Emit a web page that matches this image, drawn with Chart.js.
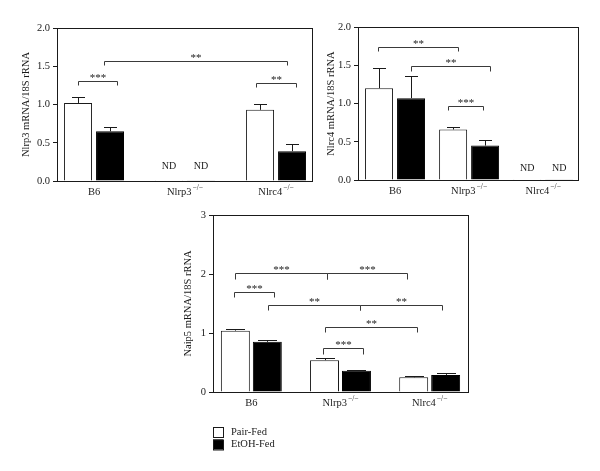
<!DOCTYPE html>
<html>
<head>
<meta charset="utf-8">
<script src="https://cdn.jsdelivr.net/npm/chart.js@4"></script>
<style>
  body { margin: 0; background: #fff; width: 600px; height: 471px; position: relative; overflow: hidden; }
  canvas { position: absolute; }
</style>
</head>
<body>
<canvas id="nlrp3" style="left:0;top:0" width="320" height="200"></canvas>
<canvas id="nlrc4" style="left:300px;top:0" width="300" height="200"></canvas>
<canvas id="naip5" style="left:150px;top:200px" width="330" height="260"></canvas>
<script>
const FONT = '"Liberation Serif", "Times New Roman", serif';
const INK = '#1a1a1a';

const categories = ['B6', 'Nlrp3', 'Nlrc4'];
const knockoutMark = ['', '\u2212/\u2212', '\u2212/\u2212'];
const seriesNames = ['Pair-Fed', 'EtOH-Fed'];

// Nlrp3 mRNA / 18S rRNA
const nlrp3Pair = [1.02, 0.01, 0.93];
const nlrp3Etoh = [0.65, 0.01, 0.39];
const nlrp3PairErr = [0.08, 0, 0.08];
const nlrp3EtohErr = [0.06, 0, 0.10];
const nlrp3Ticks = [0, 0.5, 1, 1.5, 2];
const nlrp3ND = [1];
// [from, to, line level, end level, label]
const nlrp3Brackets = [
  [-0.18, 0.25, 1.31, 1.25, '***'],
  [0.11, 2.12, 1.57, 1.51, '**'],
  [1.78, 2.22, 1.28, 1.23, '**']
];

// Nlrc4 mRNA / 18S rRNA
const nlrc4Pair = [1.20, 0.66, 0.01];
const nlrc4Etoh = [1.07, 0.45, 0.01];
const nlrc4PairErr = [0.27, 0.03, 0];
const nlrc4EtohErr = [0.29, 0.07, 0];
const nlrc4Ticks = [0, 0.5, 1, 1.5, 2];
const nlrc4ND = [2];
const nlrc4Brackets = [
  [-0.23, 0.85, 1.74, 1.68, '**'],
  [0.22, 1.28, 1.49, 1.43, '**'],
  [0.72, 1.19, 0.97, 0.91, '***']
];

// Naip5 mRNA / 18S rRNA
const naip5Pair = [1.04, 0.54, 0.25];
const naip5Etoh = [0.85, 0.36, 0.29];
const naip5PairErr = [0.02, 0.03, 0.02];
const naip5EtohErr = [0.03, 0.02, 0.03];
const naip5Ticks = [0, 1, 2, 3];
const naip5Brackets = [
  [-0.18, 0.85, 2.02, 1.92, '***'],
  [0.85, 1.75, 2.02, 1.92, '***'],
  [-0.20, 0.25, 1.70, 1.61, '***'],
  [0.19, 1.22, 1.48, 1.39, '**'],
  [1.22, 2.14, 1.48, 1.39, '**'],
  [0.83, 1.86, 1.10, 1.02, '**'],
  [0.80, 1.25, 0.74, 0.65, '***']
];

const toPoints = vals => vals.map((v, i) => ({ x: i, y: v }));
const px = v => Math.round(v) + 0.5;

function makePanel(id, cfg) {
  const extras = {
    id: 'extras',
    afterDatasetsDraw(chart) {
      const ctx = chart.ctx, xs = chart.scales.x, ys = chart.scales.y, a = chart.chartArea;
      ctx.save();
      ctx.lineWidth = 1;
      ctx.strokeStyle = INK;

      // error bars (upper whisker only)
      cfg.errors.forEach((errs, d) => {
        const ds = chart.data.datasets[d];
        chart.getDatasetMeta(d).data.forEach((bar, i) => {
          if (!errs[i]) return;
          const top = px(ys.getPixelForValue(ds.data[i].y + errs[i]));
          const bx = px(bar.x);
          ctx.beginPath();
          ctx.moveTo(bx, bar.y);
          ctx.lineTo(bx, top);
          ctx.moveTo(bx - cfg.cap, top);
          ctx.lineTo(bx + cfg.cap, top);
          ctx.stroke();
        });
      });

      // frame
      ctx.strokeRect(px(a.left), px(a.top), Math.round(a.width), Math.round(a.height));

      // significance brackets
      ctx.strokeStyle = '#3a3a3a';
      ctx.fillStyle = INK;
      ctx.font = '11px ' + FONT;
      ctx.textAlign = 'center';
      ctx.textBaseline = 'alphabetic';
      cfg.brackets.forEach(([x1, x2, yl, ye, label]) => {
        const p1 = px(xs.getPixelForValue(x1)), p2 = px(xs.getPixelForValue(x2));
        const pl = px(ys.getPixelForValue(yl)), pe = px(ys.getPixelForValue(ye));
        ctx.beginPath();
        ctx.moveTo(p1, pe);
        ctx.lineTo(p1, pl);
        ctx.lineTo(p2, pl);
        ctx.lineTo(p2, pe);
        ctx.stroke();
        ctx.fillText(label, (p1 + p2) / 2, pl - 1);
      });

      // not detected
      ctx.font = '10px ' + FONT;
      ctx.textBaseline = 'middle';
      (cfg.nd || []).forEach(i => {
        [0, 1].forEach(d => {
          const bar = chart.getDatasetMeta(d).data[i];
          ctx.fillText('ND', bar.x, ys.getPixelForValue(cfg.ndAt));
        });
      });

      // category labels with superscript genotype
      const ly = a.bottom + 11;
      categories.forEach((c, i) => {
        const cx = xs.getPixelForValue(i);
        ctx.font = '10.5px ' + FONT;
        const w1 = ctx.measureText(c).width;
        ctx.font = '7.5px ' + FONT;
        const w2 = knockoutMark[i] ? ctx.measureText(knockoutMark[i]).width + 1 : 0;
        const left = cx - (w1 + w2) / 2;
        ctx.textAlign = 'left';
        ctx.font = '10.5px ' + FONT;
        ctx.fillText(c, left, ly);
        if (w2) {
          ctx.font = '7.5px ' + FONT;
          ctx.fillText(knockoutMark[i], left + w1 + 1, ly - 4);
        }
      });

      // legend
      if (cfg.legend) {
        ctx.font = '10.5px ' + FONT;
        ctx.textAlign = 'left';
        chart.data.datasets.forEach((ds, d) => {
          const ry = a.bottom + 35 + d * 12.5;
          ctx.fillStyle = ds.backgroundColor;
          ctx.fillRect(a.left, ry, 10, 10);
          ctx.strokeStyle = INK;
          ctx.strokeRect(a.left + 0.5, ry + 0.5, 10, 10);
          ctx.fillStyle = INK;
          ctx.fillText(ds.label, a.left + 18, ry + 5);
        });
      }
      ctx.restore();
    }
  };

  return new Chart(document.getElementById(id), {
    type: 'bar',
    data: {
      datasets: [
        { label: seriesNames[0], data: toPoints(cfg.pair), backgroundColor: '#ffffff', borderColor: INK, borderWidth: 1,
          categoryPercentage: cfg.cp, barPercentage: cfg.bp },
        { label: seriesNames[1], data: toPoints(cfg.etoh), backgroundColor: '#000000', borderColor: '#000000', borderWidth: 1,
          categoryPercentage: cfg.cp, barPercentage: cfg.bp }
      ]
    },
    options: {
      responsive: false,
      animation: false,
      layout: { padding: cfg.padding },
      plugins: { legend: { display: false }, tooltip: { enabled: false } },
      scales: {
        x: {
          type: 'linear',
          offset: false,
          min: cfg.xMin,
          max: cfg.xMax,
          afterBuildTicks: s => { s.ticks = categories.map((c, i) => ({ value: i })); },
          afterFit: s => { s.height = cfg.xAxisH; },
          ticks: { display: false },
          grid: { display: false, offset: false },
          border: { color: INK }
        },
        y: {
          min: 0,
          max: cfg.yTicks[cfg.yTicks.length - 1],
          afterBuildTicks: s => { s.ticks = cfg.yTicks.map(v => ({ value: v })); },
          afterFit: s => { s.width = cfg.yAxisW; },
          ticks: {
            font: { family: FONT, size: 10.5 },
            color: INK,
            padding: 3,
            callback: v => cfg.decimals ? v.toFixed(1) : String(v)
          },
          grid: { drawOnChartArea: false, tickLength: 4, color: INK },
          border: { color: INK },
          title: {
            display: true,
            text: cfg.title,
            font: { family: FONT, size: 10.5 },
            color: INK,
            padding: { top: cfg.titlePad, bottom: 0 }
          }
        }
      }
    },
    plugins: [extras]
  });
}

makePanel('nlrp3', {
  pair: nlrp3Pair, etoh: nlrp3Etoh, errors: [nlrp3PairErr, nlrp3EtohErr],
  brackets: nlrp3Brackets, nd: nlrp3ND, ndAt: 0.19, yTicks: nlrp3Ticks, decimals: true,
  title: 'Nlrp3 mRNA/18S rRNA', titlePad: 20,
  xMin: -0.407, xMax: 2.395, cp: 0.703, bp: 0.875, cap: 6.5,
  padding: { top: 28, right: 8, left: 0, bottom: 0 }, yAxisW: 57, xAxisH: 19
});

makePanel('nlrc4', {
  pair: nlrc4Pair, etoh: nlrc4Etoh, errors: [nlrc4PairErr, nlrc4EtohErr],
  brackets: nlrc4Brackets, nd: nlrc4ND, ndAt: 0.15, yTicks: nlrc4Ticks, decimals: true,
  title: 'Nlrc4 mRNA/18S rRNA', titlePad: 24.7,
  xMin: -0.5, xMax: 2.47, cp: 0.864, bp: 0.875, cap: 6.5,
  padding: { top: 27, right: 22, left: 0, bottom: 0 }, yAxisW: 58, xAxisH: 20
});

makePanel('naip5', {
  pair: naip5Pair, etoh: naip5Etoh, errors: [naip5PairErr, naip5EtohErr],
  brackets: naip5Brackets, yTicks: naip5Ticks, decimals: false,
  title: 'Naip5 mRNA/18S rRNA', titlePad: 31.7, legend: true,
  xMin: -0.43, xMax: 2.43, cp: 0.717, bp: 0.906, cap: 9.5,
  padding: { top: 15, right: 12, left: 0, bottom: 48 }, yAxisW: 63, xAxisH: 20
});
</script>
</body>
</html>
